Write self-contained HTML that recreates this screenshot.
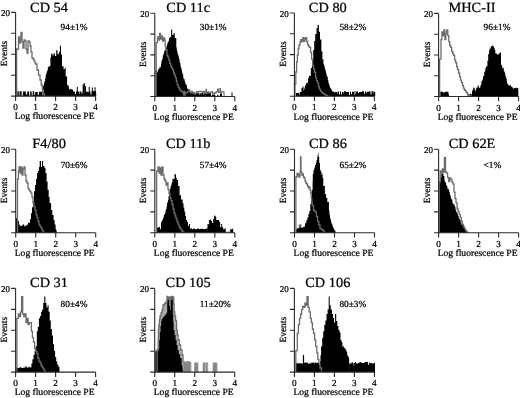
<!DOCTYPE html>
<html><head><meta charset="utf-8"><style>
html,body{margin:0;padding:0;background:#fff;}
body{width:520px;height:398px;overflow:hidden;}
svg{display:block;filter:blur(0.3px);}
text{text-rendering:geometricPrecision;}
</style></head><body>
<svg width="520" height="398" viewBox="0 0 520 398">
<path d="M41.5,96.1 L41.5,96.2 L42.4,96.2 L42.4,87.2 L43.0,87.2 L43.0,86.0 L43.5,86.0 L43.5,85.5 L44.0,85.5 L44.0,82.9 L44.6,82.9 L44.6,81.0 L45.1,81.0 L45.1,78.6 L45.6,78.6 L45.7,75.1 L46.2,75.1 L46.2,73.3 L46.7,73.3 L46.7,71.6 L47.2,71.6 L47.2,70.5 L47.8,70.5 L47.8,67.4 L48.3,67.4 L48.4,66.5 L48.9,66.5 L48.9,66.2 L50.4,66.2 L50.4,57.5 L51.1,57.5 L51.1,53.8 L52.5,53.8 L52.5,55.5 L53.5,55.5 L53.5,53.5 L55.0,53.5 L55.0,56.0 L56.2,56.0 L56.2,50.2 L57.5,50.2 L57.5,54.3 L58.0,54.3 L58.0,54.6 L58.6,54.6 L58.6,52.9 L59.1,52.9 L59.1,51.7 L59.9,51.7 L59.9,45.8 L61.0,45.8 L61.0,54.6 L62.0,54.6 L62.0,66.2 L63.5,66.2 L63.5,69.0 L65.0,69.0 L65.0,67.7 L65.7,67.7 L65.7,76.4 L67.1,76.4 L67.1,85.2 L68.6,85.2 L68.6,87.2 L69.1,87.2 L69.1,89.3 L69.6,89.3 L69.6,89.5 L70.0,89.5 L70.0,89.1 L70.5,89.1 L70.5,89.3 L71.0,89.3 L71.0,88.8 L71.5,88.8 L71.5,89.5 L73.0,89.5 L73.0,96.1 Z" fill="#000"/>
<path d="M17.3,96.1 V91.2 H18.8 V96.1 Z M19.6,96.1 V91.2 H21.6 V96.1 Z M22.9,96.1 V91.6 H25.9 V96.1 Z M25.9,96.1 V94.6 H27.2 V96.1 Z M27.2,96.1 V91.4 H29.2 V96.1 Z M30.2,96.1 V91.5 H31.7 V96.1 Z M31.7,96.1 V95.4 H32.7 V96.1 Z M32.7,96.1 V91.3 H34.2 V96.1 Z M34.2,96.1 V94.7 H35.2 V96.1 Z M35.2,96.1 V91.9 H37.7 V96.1 Z M37.7,96.1 V94.8 H39.0 V96.1 Z M39.0,96.1 V91.8 H42.0 V96.1 Z M42.0,96.1 V95.4 H42.0 V96.1 Z M70.0,96.1 V91.2 H71.0 V96.1 Z M71.0,96.1 V91.7 H72.5 V96.1 Z M72.5,96.1 V91.6 H75.0 V96.1 Z M75.0,96.1 V94.0 H76.0 V96.1 Z M76.0,96.1 V91.4 H79.0 V96.1 Z M79.0,96.1 V94.1 H79.5 V96.1 Z M79.5,96.1 V91.6 H81.5 V96.1 Z M81.5,96.1 V93.4 H82.5 V96.1 Z M82.5,96.1 V91.8 H83.5 V96.1 Z M83.5,96.1 V91.9 H84.5 V96.1 Z M84.5,96.1 V94.5 H85.5 V96.1 Z M85.5,96.1 V91.7 H88.5 V96.1 Z M88.5,96.1 V93.1 H89.0 V96.1 Z M89.0,96.1 V91.6 H90.5 V96.1 Z M90.5,96.1 V94.5 H91.5 V96.1 Z M91.5,96.1 V91.1 H94.0 V96.1 Z M94.0,96.1 V91.2 H96.0 V96.1 Z M96.0,96.1 V92.7 H96.2 V96.1 Z M76.8,96.1 V86.8 H77.8 V96.1 Z M82.7,96.1 V84.5 H83.7 V96.1 Z M83.7,96.1 V83.3 H84.9 V96.1 Z M85.0,96.1 V86.0 H86.0 V96.1 Z M88.7,96.1 V86.8 H89.7 V96.1 Z M91.8,96.1 V87.5 H92.8 V96.1 Z M94.5,96.1 V87.2 H95.5 V96.1 Z " fill="#000"/>
<path d="M16.6,96.1 L16.6,49.0 L17.0,49.0 L17.0,49.0 L18.5,49.0 L18.5,37.0 L19.5,37.0 L19.5,43.0 L20.3,43.0 L20.3,40.0 L21.0,40.0 L21.0,32.5 L22.0,32.5 L22.0,42.0 L23.0,42.0 L23.0,48.0 L24.0,48.0 L24.0,40.0 L25.0,40.0 L25.0,41.0 L26.0,41.0 L26.0,49.0 L27.0,49.0 L27.0,53.0 L28.0,53.0 L28.0,41.0 L29.0,41.0 L29.0,42.0 L30.0,42.0 L30.0,46.0 L31.0,46.0 L31.0,52.0 L32.0,52.0 L32.0,58.0 L33.0,58.0 L33.0,59.0 L34.0,59.0 L34.0,60.8 L34.8,60.8 L34.8,62.6 L35.6,62.6 L35.6,64.0 L37.0,64.0 L37.0,70.0 L38.5,70.0 L38.5,75.0 L40.0,75.0 L40.0,80.0 L41.2,80.0 L41.2,85.0 L42.3,85.0 L42.3,89.4 L43.4,89.4 L43.4,94.0 L44.5,94.0 L44.5,96.1" fill="none" stroke="#6c6c6c" stroke-width="1.3" stroke-linejoin="miter"/>
<path d="M15.6,12.4 V96.1 H95.6 M11.1,96.1 H15.6 M11.1,75.2 H15.6 M11.1,54.2 H15.6 M11.1,33.3 H15.6 M11.1,12.4 H15.6 M15.6,96.1 V100.9 M35.6,96.1 V100.9 M55.6,96.1 V100.9 M75.6,96.1 V100.9 M95.6,96.1 V100.9 " fill="none" stroke="#2a2a2a" stroke-width="1.1"/>
<text x="10.0" y="16.3" font-size="9" text-anchor="end" font-family="Liberation Serif, Times New Roman, serif" stroke="#000" stroke-width="0.24">20</text>
<text transform="translate(7.2,53.6) rotate(-90)" font-size="9.4" text-anchor="middle" font-family="Liberation Serif, Times New Roman, serif" stroke="#000" stroke-width="0.24">Events</text>
<text x="15.6" y="110.2" font-size="9.2" text-anchor="middle" font-family="Liberation Serif, Times New Roman, serif" stroke="#000" stroke-width="0.24">0</text>
<text x="35.6" y="110.2" font-size="9.2" text-anchor="middle" font-family="Liberation Serif, Times New Roman, serif" stroke="#000" stroke-width="0.24">1</text>
<text x="55.6" y="110.2" font-size="9.2" text-anchor="middle" font-family="Liberation Serif, Times New Roman, serif" stroke="#000" stroke-width="0.24">2</text>
<text x="75.6" y="110.2" font-size="9.2" text-anchor="middle" font-family="Liberation Serif, Times New Roman, serif" stroke="#000" stroke-width="0.24">3</text>
<text x="95.6" y="110.2" font-size="9.2" text-anchor="middle" font-family="Liberation Serif, Times New Roman, serif" stroke="#000" stroke-width="0.24">4</text>
<text x="54.6" y="119.3" font-size="9.6" letter-spacing="0" text-anchor="middle" font-family="Liberation Serif, Times New Roman, serif" stroke="#000" stroke-width="0.24">Log fluorescence PE</text>
<text transform="translate(49.0,11.6) scale(1.025,1)" font-size="14" text-anchor="middle" font-family="Liberation Serif, Times New Roman, serif" stroke="#000" stroke-width="0.24">CD 54</text>
<text x="60.6" y="30.1" font-size="9.3" font-family="Liberation Serif, Times New Roman, serif" stroke="#000" stroke-width="0.24">94±1%</text>
<path d="M155.6,96.5 L155.6,70.0 L156.8,70.0 L156.8,73.2 L157.2,73.2 L157.2,71.7 L157.7,71.7 L157.7,71.0 L158.1,71.0 L158.2,69.2 L158.6,69.2 L158.6,68.8 L159.1,68.8 L159.1,68.7 L159.5,68.7 L159.6,66.8 L160.0,66.8 L160.0,67.5 L160.5,67.5 L160.5,66.7 L161.0,66.7 L161.0,63.7 L161.4,63.7 L161.4,61.1 L161.9,61.1 L161.9,59.5 L162.4,59.5 L162.4,58.7 L162.8,58.7 L162.8,55.4 L163.3,55.4 L163.3,54.4 L163.8,54.4 L163.8,53.1 L164.2,53.1 L164.2,50.5 L164.7,50.5 L164.7,50.7 L165.1,50.7 L165.1,50.4 L165.6,50.4 L165.6,47.8 L166.1,47.8 L166.1,47.2 L166.6,47.2 L166.6,46.4 L167.0,46.4 L167.1,44.2 L167.5,44.2 L167.5,42.6 L168.0,42.6 L168.0,42.2 L168.4,42.2 L168.4,41.0 L168.9,41.0 L168.9,38.3 L169.4,38.3 L169.4,38.0 L169.8,38.0 L169.8,37.0 L171.1,37.0 L171.1,29.6 L172.2,29.6 L172.2,35.0 L173.5,35.0 L173.5,33.3 L174.8,33.3 L174.8,38.0 L176.3,38.0 L176.3,47.6 L176.8,47.6 L176.8,50.2 L177.2,50.2 L177.2,51.8 L177.7,51.8 L177.7,54.4 L178.2,54.4 L178.2,55.5 L178.6,55.5 L178.6,57.3 L179.1,57.3 L179.1,59.3 L179.6,59.3 L179.6,62.1 L180.0,62.1 L180.0,63.3 L180.5,63.3 L180.5,66.4 L180.9,66.4 L180.9,67.4 L181.4,67.4 L181.4,69.4 L181.9,69.4 L181.9,72.4 L182.4,72.4 L182.4,73.3 L182.8,73.3 L182.9,75.2 L183.3,75.2 L183.3,78.0 L183.8,78.0 L183.8,79.7 L184.2,79.7 L184.2,79.1 L184.7,79.1 L184.7,81.4 L185.1,81.4 L185.2,83.2 L185.6,83.2 L185.6,84.4 L186.1,84.4 L186.1,84.2 L186.5,84.2 L186.6,85.7 L187.0,85.7 L187.0,88.5 L187.5,88.5 L187.5,89.0 L187.9,89.0 L187.9,88.5 L188.4,88.5 L188.4,89.8 L188.9,89.8 L188.9,90.3 L189.3,90.3 L189.3,90.7 L189.8,90.7 L189.8,91.7 L190.2,91.7 L190.2,92.6 L190.7,92.6 L190.7,93.6 L191.2,93.6 L191.2,93.5 L192.5,93.5 L192.5,96.5 Z" fill="#000"/>
<path d="M189.0,96.5 V93.0 H190.0 V96.5 Z M190.0,96.5 V94.1 H191.0 V96.5 Z M191.0,96.5 V92.8 H194.0 V96.5 Z M194.0,96.5 V94.5 H194.5 V96.5 Z M194.5,96.5 V92.9 H195.5 V96.5 Z M195.5,96.5 V94.4 H196.0 V96.5 Z M196.0,96.5 V93.3 H197.0 V96.5 Z M197.0,96.5 V93.2 H199.5 V96.5 Z M199.5,96.5 V95.1 H200.0 V96.5 Z M200.0,96.5 V93.2 H201.0 V96.5 Z M201.0,96.5 V94.6 H201.5 V96.5 Z M201.5,96.5 V92.7 H203.0 V96.5 Z M203.0,96.5 V94.8 H203.5 V96.5 Z M203.5,96.5 V92.6 H206.0 V96.5 Z M206.0,96.5 V93.8 H207.0 V96.5 Z M207.0,96.5 V92.6 H208.0 V96.5 Z M208.0,96.5 V92.8 H211.0 V96.5 Z M211.0,96.5 V94.5 H211.0 V96.5 Z M211.5,96.5 V95.4 H212.0 V96.5 Z M212.0,96.5 V94.4 H213.0 V96.5 Z M213.0,96.5 V94.7 H214.5 V96.5 Z M214.5,96.5 V93.3 H215.0 V96.5 Z M215.0,96.5 V95.5 H215.5 V96.5 Z M217.0,96.5 V94.5 H217.5 V96.5 Z M217.5,96.5 V95.4 H219.0 V96.5 Z M219.0,96.5 V95.8 H220.0 V96.5 Z M220.0,96.5 V93.7 H221.0 V96.5 Z M221.0,96.5 V93.2 H222.0 V96.5 Z M231.5,96.5 V92.5 H232.5 V96.5 Z " fill="#000"/>
<path d="M156.2,96.5 L156.2,42.6 L156.6,42.6 L156.6,42.6 L157.5,42.6 L157.5,37.0 L158.5,37.0 L158.5,40.0 L159.5,40.0 L159.5,33.3 L160.5,33.3 L160.5,39.0 L161.5,39.0 L161.5,36.0 L162.5,36.0 L162.5,41.0 L163.5,41.0 L163.5,38.0 L164.5,38.0 L164.5,40.0 L165.2,40.0 L165.2,46.3 L166.0,46.3 L166.0,50.0 L167.0,50.0 L167.0,55.5 L167.9,55.5 L167.9,57.3 L168.9,57.3 L168.9,60.3 L169.8,60.3 L169.8,63.4 L170.7,63.4 L170.7,66.0 L171.6,66.0 L171.6,68.2 L172.6,68.2 L172.6,69.8 L173.6,69.8 L173.6,73.0 L174.5,73.0 L174.5,75.2 L175.4,75.2 L175.4,77.7 L176.3,77.7 L176.3,81.2 L177.2,81.2 L177.2,84.7 L178.2,84.7 L178.2,87.0 L179.1,87.0 L179.1,88.5 L180.0,88.5 L180.0,90.3 L180.9,90.3 L180.9,90.9 L181.9,90.9 L181.9,91.9 L183.5,91.9 L183.5,94.0 L185.0,94.0 L185.0,96.5" fill="none" stroke="#6c6c6c" stroke-width="1.3" stroke-linejoin="miter"/>
<path d="M184.0,96.5 L184.0,91.4 L185.0,91.4 L185.0,93.1 L186.0,93.1 L186.0,92.7 L187.5,92.7 L187.5,91.9 L189.0,91.9 L189.0,89.9 L190.0,89.9 L190.0,91.8 L191.0,91.8 L191.0,92.6 L191.5,92.6 L191.5,91.2 L192.5,91.2 L192.5,93.0 L193.5,93.0 L193.5,92.2 L194.0,92.2 L194.0,93.4 L195.0,93.4 L195.0,93.1 L196.0,93.1 L196.0,92.9 L196.5,92.9 L196.5,91.5 L197.0,91.5 L197.0,92.4 L198.0,92.4 L198.0,92.0 L199.0,92.0 L199.0,91.3 L200.0,91.3 L200.0,91.4 L201.5,91.4 L201.5,92.0 L202.0,92.0 L202.0,92.2 L203.0,92.2 L203.0,91.3 L204.0,91.3 L204.0,91.6 L204.5,91.6 L204.5,93.4 L205.0,93.4 L205.0,91.7 L206.0,91.7 L206.0,89.3 L206.5,89.3 L206.5,92.9 L208.0,92.9 L208.0,91.6 L208.5,91.6 L208.5,93.0 L210.0,93.0 L210.0,92.7 L211.0,92.7 L211.0,91.5 L212.5,91.5 L212.5,93.4 L214.0,93.4 L214.0,92.9 L214.5,92.9 L214.5,93.1 L215.5,93.1 L215.5,92.4 L216.5,92.4 L216.5,91.8 L217.5,91.8 L217.5,89.0 L218.5,89.0 L218.5,92.5 L219.5,92.5 L219.5,92.3 L220.0,92.3 L220.0,88.6 L220.5,88.6 L220.5,92.3 L221.0,92.3 L221.0,93.3 L221.5,93.3 L221.5,91.7 L223.0,91.7 L223.0,91.9 L224.0,91.9 L224.0,96.5" fill="none" stroke="#6c6c6c" stroke-width="1.1"/>
<path d="M154.8,13.3 V96.5 H234.8 M150.3,96.5 H154.8 M150.3,75.7 H154.8 M150.3,54.9 H154.8 M150.3,34.1 H154.8 M150.3,13.3 H154.8 M154.8,96.5 V101.3 M174.8,96.5 V101.3 M194.8,96.5 V101.3 M214.8,96.5 V101.3 M234.8,96.5 V101.3 " fill="none" stroke="#2a2a2a" stroke-width="1.1"/>
<text x="149.2" y="17.2" font-size="9" text-anchor="end" font-family="Liberation Serif, Times New Roman, serif" stroke="#000" stroke-width="0.24">20</text>
<text transform="translate(146.4,54.3) rotate(-90)" font-size="9.4" text-anchor="middle" font-family="Liberation Serif, Times New Roman, serif" stroke="#000" stroke-width="0.24">Events</text>
<text x="154.8" y="110.6" font-size="9.2" text-anchor="middle" font-family="Liberation Serif, Times New Roman, serif" stroke="#000" stroke-width="0.24">0</text>
<text x="174.8" y="110.6" font-size="9.2" text-anchor="middle" font-family="Liberation Serif, Times New Roman, serif" stroke="#000" stroke-width="0.24">1</text>
<text x="194.8" y="110.6" font-size="9.2" text-anchor="middle" font-family="Liberation Serif, Times New Roman, serif" stroke="#000" stroke-width="0.24">2</text>
<text x="214.8" y="110.6" font-size="9.2" text-anchor="middle" font-family="Liberation Serif, Times New Roman, serif" stroke="#000" stroke-width="0.24">3</text>
<text x="234.8" y="110.6" font-size="9.2" text-anchor="middle" font-family="Liberation Serif, Times New Roman, serif" stroke="#000" stroke-width="0.24">4</text>
<text x="193.8" y="119.7" font-size="9.6" letter-spacing="0" text-anchor="middle" font-family="Liberation Serif, Times New Roman, serif" stroke="#000" stroke-width="0.24">Log fluorescence PE</text>
<text transform="translate(188.2,11.6) scale(1.025,1)" font-size="14" text-anchor="middle" font-family="Liberation Serif, Times New Roman, serif" stroke="#000" stroke-width="0.24">CD 11c</text>
<text x="199.8" y="30.1" font-size="9.3" font-family="Liberation Serif, Times New Roman, serif" stroke="#000" stroke-width="0.24">30±1%</text>
<path d="M300.0,96.3 L300.0,92.0 L301.5,92.0 L301.5,88.0 L302.5,88.0 L302.5,86.6 L303.5,86.6 L303.5,90.2 L304.0,90.2 L304.0,89.3 L304.5,89.3 L304.5,87.6 L305.0,87.6 L305.0,85.6 L305.5,85.6 L305.5,85.3 L306.0,85.3 L306.0,83.4 L306.5,83.4 L306.5,82.9 L307.0,82.9 L307.0,83.0 L307.5,83.0 L307.5,82.4 L308.0,82.4 L308.0,78.6 L308.5,78.6 L308.5,77.4 L309.0,77.4 L309.0,75.6 L309.5,75.6 L309.5,76.0 L310.8,76.0 L310.8,68.0 L312.0,68.0 L312.0,60.0 L313.2,60.0 L313.2,50.0 L314.2,50.0 L314.2,41.0 L315.2,41.0 L315.2,34.0 L316.5,34.0 L316.5,28.6 L317.0,28.6 L317.0,28.0 L317.6,28.0 L317.6,25.1 L318.1,25.1 L318.1,24.9 L318.9,24.9 L318.9,31.8 L320.0,31.8 L320.0,39.6 L321.4,39.6 L321.4,51.4 L322.4,51.4 L322.4,59.2 L323.4,59.2 L323.4,63.7 L323.9,63.7 L323.9,65.2 L324.4,65.2 L324.4,66.9 L324.8,66.9 L324.8,69.1 L325.3,69.1 L325.3,70.3 L325.8,70.3 L325.8,72.4 L326.3,72.4 L326.3,74.4 L326.8,74.4 L326.8,76.7 L327.3,76.7 L327.3,76.6 L327.8,76.6 L327.8,80.1 L328.3,80.1 L328.3,82.5 L328.8,82.5 L328.8,84.0 L329.3,84.0 L329.3,85.4 L329.8,85.4 L329.8,87.4 L330.2,87.4 L330.2,87.8 L330.7,87.8 L330.7,88.5 L331.2,88.5 L331.2,89.5 L331.7,89.5 L331.7,90.7 L332.2,90.7 L332.2,91.5 L332.7,91.5 L332.7,91.8 L333.2,91.8 L333.2,93.0 L333.6,93.0 L333.6,93.0 L334.1,93.0 L334.1,93.0 L334.6,93.0 L334.6,93.2 L335.0,93.2 L335.0,96.3 Z" fill="#000"/>
<path d="M296.0,96.3 V92.9 H299.0 V96.3 Z M299.0,96.3 V95.0 H299.5 V96.3 Z M299.5,96.3 V92.5 H301.0 V96.3 Z M301.0,96.3 V93.8 H301.5 V96.3 Z M301.5,96.3 V92.6 H303.0 V96.3 Z M303.0,96.3 V94.6 H303.5 V96.3 Z M303.5,96.3 V92.5 H304.0 V96.3 Z M304.0,96.3 V94.4 H304.0 V96.3 Z M332.0,96.3 V91.8 H333.5 V96.3 Z M333.5,96.3 V91.8 H334.5 V96.3 Z M334.5,96.3 V93.3 H335.0 V96.3 Z M335.0,96.3 V91.9 H337.0 V96.3 Z M337.0,96.3 V94.1 H337.5 V96.3 Z M337.5,96.3 V91.4 H339.0 V96.3 Z M339.0,96.3 V94.6 H340.0 V96.3 Z M340.0,96.3 V91.4 H341.0 V96.3 Z M341.0,96.3 V94.5 H342.0 V96.3 Z M342.0,96.3 V91.9 H343.5 V96.3 Z M343.5,96.3 V93.5 H344.0 V96.3 Z M344.0,96.3 V91.3 H346.0 V96.3 Z M346.0,96.3 V92.0 H349.0 V96.3 Z M349.0,96.3 V94.9 H350.0 V96.3 Z M350.0,96.3 V91.7 H351.0 V96.3 Z M351.0,96.3 V94.2 H352.0 V96.3 Z M352.0,96.3 V91.7 H354.0 V96.3 Z M354.0,96.3 V94.9 H354.5 V96.3 Z M354.5,96.3 V91.3 H355.5 V96.3 Z M355.5,96.3 V94.0 H356.0 V96.3 Z M356.0,96.3 V91.4 H358.0 V96.3 Z M358.0,96.3 V93.0 H359.0 V96.3 Z M359.0,96.3 V91.9 H362.0 V96.3 Z M362.0,96.3 V91.3 H364.0 V96.3 Z M364.0,96.3 V93.7 H365.0 V96.3 Z M365.0,96.3 V91.6 H366.5 V96.3 Z M366.5,96.3 V93.4 H367.0 V96.3 Z M367.0,96.3 V91.8 H369.0 V96.3 Z M369.0,96.3 V91.3 H370.5 V96.3 Z M370.5,96.3 V94.6 H371.5 V96.3 Z M371.5,96.3 V91.3 H373.5 V96.3 Z M373.5,96.3 V93.3 H374.0 V96.3 Z M374.0,96.3 V91.7 H375.2 V96.3 Z M375.2,96.3 V94.8 H375.2 V96.3 Z " fill="#000"/>
<path d="M295.0,96.3 L295.0,84.0 L295.0,84.0 L295.0,84.0 L295.8,84.0 L295.8,72.0 L296.6,72.0 L296.6,62.0 L297.4,62.0 L297.4,55.0 L298.2,55.0 L298.2,49.0 L299.0,49.0 L299.0,45.0 L300.0,45.0 L300.0,42.0 L300.8,42.0 L300.8,39.6 L301.8,39.6 L301.8,41.5 L302.8,41.5 L302.8,37.6 L304.0,37.6 L304.0,41.3 L304.9,41.3 L304.9,38.9 L305.7,38.9 L305.7,37.6 L306.7,37.6 L306.7,41.5 L307.7,41.5 L307.7,45.0 L308.7,45.0 L308.7,46.6 L309.7,46.6 L309.7,47.4 L310.6,47.4 L310.6,52.3 L311.6,52.3 L311.6,59.2 L312.6,59.2 L312.6,65.3 L313.6,65.3 L313.6,69.2 L314.6,69.2 L314.6,72.4 L315.6,72.4 L315.6,77.7 L316.5,77.7 L316.5,80.6 L317.5,80.6 L317.5,82.9 L318.5,82.9 L318.5,86.5 L319.4,86.5 L319.4,89.2 L320.4,89.2 L320.4,91.0 L321.4,91.0 L321.4,91.9 L322.4,91.9 L322.4,93.2 L323.4,93.2 L323.4,93.6 L324.3,93.6 L324.3,94.3 L325.3,94.3 L325.3,94.9 L326.2,94.9 L326.2,95.4 L327.1,95.4 L327.1,95.9 L328.0,95.9 L328.0,96.3" fill="none" stroke="#6c6c6c" stroke-width="1.3" stroke-linejoin="miter"/>
<path d="M294.4,13.0 V96.3 H374.4 M289.9,96.3 H294.4 M289.9,75.5 H294.4 M289.9,54.6 H294.4 M289.9,33.8 H294.4 M289.9,13.0 H294.4 M294.4,96.3 V101.1 M314.4,96.3 V101.1 M334.4,96.3 V101.1 M354.4,96.3 V101.1 M374.4,96.3 V101.1 " fill="none" stroke="#2a2a2a" stroke-width="1.1"/>
<text x="288.8" y="16.9" font-size="9" text-anchor="end" font-family="Liberation Serif, Times New Roman, serif" stroke="#000" stroke-width="0.24">20</text>
<text transform="translate(286.0,54.0) rotate(-90)" font-size="9.4" text-anchor="middle" font-family="Liberation Serif, Times New Roman, serif" stroke="#000" stroke-width="0.24">Events</text>
<text x="294.4" y="110.4" font-size="9.2" text-anchor="middle" font-family="Liberation Serif, Times New Roman, serif" stroke="#000" stroke-width="0.24">0</text>
<text x="314.4" y="110.4" font-size="9.2" text-anchor="middle" font-family="Liberation Serif, Times New Roman, serif" stroke="#000" stroke-width="0.24">1</text>
<text x="334.4" y="110.4" font-size="9.2" text-anchor="middle" font-family="Liberation Serif, Times New Roman, serif" stroke="#000" stroke-width="0.24">2</text>
<text x="354.4" y="110.4" font-size="9.2" text-anchor="middle" font-family="Liberation Serif, Times New Roman, serif" stroke="#000" stroke-width="0.24">3</text>
<text x="374.4" y="110.4" font-size="9.2" text-anchor="middle" font-family="Liberation Serif, Times New Roman, serif" stroke="#000" stroke-width="0.24">4</text>
<text x="333.4" y="119.5" font-size="9.6" letter-spacing="0" text-anchor="middle" font-family="Liberation Serif, Times New Roman, serif" stroke="#000" stroke-width="0.24">Log fluorescence PE</text>
<text transform="translate(327.8,11.6) scale(1.025,1)" font-size="14" text-anchor="middle" font-family="Liberation Serif, Times New Roman, serif" stroke="#000" stroke-width="0.24">CD 80</text>
<text x="339.4" y="30.1" font-size="9.3" font-family="Liberation Serif, Times New Roman, serif" stroke="#000" stroke-width="0.24">58±2%</text>
<path d="M472.0,96.5 L472.0,90.9 L472.6,90.9 L472.6,89.8 L473.1,89.8 L473.1,87.4 L473.7,87.4 L473.7,87.7 L474.3,87.7 L474.3,88.6 L474.8,88.6 L474.8,90.4 L475.4,90.4 L475.4,90.7 L475.9,90.7 L475.9,88.8 L476.4,88.8 L476.4,87.6 L477.0,87.6 L477.0,87.7 L477.5,87.7 L477.5,85.5 L478.0,85.5 L478.0,85.3 L478.6,85.3 L478.6,87.5 L479.1,87.5 L479.1,87.6 L479.7,87.6 L479.7,88.3 L480.3,88.3 L480.3,85.8 L480.8,85.8 L480.8,84.6 L481.4,84.6 L481.4,81.1 L482.0,81.1 L482.0,80.6 L482.5,80.6 L482.5,79.3 L483.1,79.3 L483.1,75.7 L483.7,75.7 L483.7,75.9 L484.2,75.9 L484.2,72.1 L484.8,72.1 L484.8,70.8 L485.4,70.8 L485.4,68.1 L485.9,68.1 L485.9,66.9 L486.5,66.9 L486.5,65.9 L487.4,65.9 L487.4,60.8 L488.2,60.8 L488.2,53.9 L489.1,53.9 L489.1,50.2 L489.7,50.2 L489.7,47.7 L490.2,47.7 L490.2,48.7 L490.8,48.7 L490.8,46.6 L491.4,46.6 L491.4,46.3 L491.9,46.3 L491.9,45.9 L492.5,45.9 L492.5,45.4 L493.1,45.4 L493.1,45.7 L493.6,45.7 L493.6,47.2 L494.2,47.2 L494.2,48.4 L494.8,48.4 L494.8,50.0 L495.3,50.0 L495.3,53.3 L495.9,53.3 L495.9,53.7 L496.5,53.7 L496.5,53.6 L497.0,53.6 L497.0,54.7 L497.6,54.7 L497.6,54.2 L498.1,54.2 L498.1,53.8 L498.6,53.8 L498.6,54.5 L499.2,54.5 L499.2,53.0 L499.7,53.0 L499.7,53.5 L500.2,53.5 L500.2,52.2 L501.0,52.2 L501.0,65.2 L501.6,65.2 L501.6,64.4 L502.1,64.4 L502.1,67.5 L502.7,67.5 L502.7,68.5 L503.3,68.5 L503.3,67.8 L503.8,67.8 L503.8,71.3 L504.4,71.3 L504.4,71.7 L504.8,71.7 L504.8,73.5 L505.3,73.5 L505.3,76.4 L505.7,76.4 L505.8,76.3 L506.2,76.3 L506.2,79.0 L506.8,79.0 L506.8,82.3 L507.3,82.3 L507.3,84.1 L507.9,84.1 L507.9,84.6 L508.5,84.6 L508.5,85.8 L509.0,85.8 L509.0,85.5 L509.6,85.5 L509.6,85.2 L510.2,85.2 L510.2,84.6 L510.7,84.6 L510.7,86.4 L511.3,86.4 L511.3,86.7 L511.9,86.7 L511.9,87.1 L512.4,87.1 L512.4,87.7 L513.0,87.7 L513.0,88.9 L513.6,88.9 L513.6,87.8 L514.1,87.8 L514.1,88.1 L514.7,88.1 L514.7,88.3 L515.2,88.3 L515.2,87.9 L515.7,87.9 L515.7,87.5 L516.3,87.5 L516.3,88.2 L516.8,88.2 L516.8,87.8 L517.3,87.8 L517.3,88.0 L518.3,88.0 L518.3,96.5 Z" fill="#000"/>
<path d="M440.3,96.5 V91.8 H443.3 V96.5 Z M443.3,96.5 V93.3 H443.8 V96.5 Z M443.8,96.5 V92.3 H445.3 V96.5 Z M445.3,96.5 V91.8 H448.3 V96.5 Z M448.3,96.5 V94.6 H448.8 V96.5 Z M448.8,96.5 V92.0 H449.0 V96.5 Z M449.0,96.5 V94.0 H449.0 V96.5 Z M467.7,96.5 V94.2 H469.2 V96.5 Z M469.2,96.5 V95.4 H469.7 V96.5 Z M469.7,96.5 V93.7 H471.2 V96.5 Z M471.2,96.5 V94.4 H472.2 V96.5 Z M472.2,96.5 V95.5 H472.7 V96.5 Z M472.7,96.5 V94.4 H473.0 V96.5 Z M473.0,96.5 V95.4 H473.0 V96.5 Z " fill="#000"/>
<path d="M439.6,96.5 L439.6,59.2 L440.0,59.2 L440.0,59.2 L441.0,59.2 L441.0,39.6 L441.9,39.6 L441.9,31.8 L442.9,31.8 L442.9,35.7 L443.9,35.7 L443.9,29.8 L444.9,29.8 L444.9,39.6 L445.8,39.6 L445.8,33.7 L446.8,33.7 L446.8,29.8 L447.8,29.8 L447.8,35.7 L448.8,35.7 L448.8,41.6 L449.7,41.6 L449.7,45.5 L450.7,45.5 L450.7,47.4 L451.7,47.4 L451.7,51.4 L452.7,51.4 L452.7,53.3 L453.6,53.3 L453.6,55.3 L454.6,55.3 L454.6,59.8 L455.6,59.8 L455.6,62.7 L456.6,62.7 L456.6,66.9 L457.6,66.9 L457.6,69.6 L458.6,69.6 L458.6,73.2 L459.6,73.2 L459.6,76.6 L460.5,76.6 L460.5,80.2 L461.5,80.2 L461.5,82.6 L462.5,82.6 L462.5,85.4 L463.4,85.4 L463.4,88.1 L464.4,88.1 L464.4,90.0 L465.4,90.0 L465.4,91.1 L466.4,91.1 L466.4,92.7 L467.4,92.7 L467.4,94.2 L468.3,94.2 L468.3,94.8 L469.2,94.8 L469.2,95.4 L470.1,95.4 L470.1,95.9 L471.0,95.9 L471.0,96.5" fill="none" stroke="#6c6c6c" stroke-width="1.3" stroke-linejoin="miter"/>
<path d="M438.6,13.4 V96.5 H518.6 M434.1,96.5 H438.6 M434.1,75.7 H438.6 M434.1,55.0 H438.6 M434.1,34.2 H438.6 M434.1,13.4 H438.6 M438.6,96.5 V101.3 M458.6,96.5 V101.3 M478.6,96.5 V101.3 M498.6,96.5 V101.3 M518.6,96.5 V101.3 " fill="none" stroke="#2a2a2a" stroke-width="1.1"/>
<text x="433.0" y="17.3" font-size="9" text-anchor="end" font-family="Liberation Serif, Times New Roman, serif" stroke="#000" stroke-width="0.24">20</text>
<text transform="translate(430.2,54.4) rotate(-90)" font-size="9.4" text-anchor="middle" font-family="Liberation Serif, Times New Roman, serif" stroke="#000" stroke-width="0.24">Events</text>
<text x="438.6" y="110.6" font-size="9.2" text-anchor="middle" font-family="Liberation Serif, Times New Roman, serif" stroke="#000" stroke-width="0.24">0</text>
<text x="458.6" y="110.6" font-size="9.2" text-anchor="middle" font-family="Liberation Serif, Times New Roman, serif" stroke="#000" stroke-width="0.24">1</text>
<text x="478.6" y="110.6" font-size="9.2" text-anchor="middle" font-family="Liberation Serif, Times New Roman, serif" stroke="#000" stroke-width="0.24">2</text>
<text x="498.6" y="110.6" font-size="9.2" text-anchor="middle" font-family="Liberation Serif, Times New Roman, serif" stroke="#000" stroke-width="0.24">3</text>
<text x="518.6" y="110.6" font-size="9.2" text-anchor="middle" font-family="Liberation Serif, Times New Roman, serif" stroke="#000" stroke-width="0.24">4</text>
<text x="477.6" y="119.7" font-size="9.6" letter-spacing="0" text-anchor="middle" font-family="Liberation Serif, Times New Roman, serif" stroke="#000" stroke-width="0.24">Log fluorescence PE</text>
<text transform="translate(472.0,11.6) scale(1.025,1)" font-size="14" text-anchor="middle" font-family="Liberation Serif, Times New Roman, serif" stroke="#000" stroke-width="0.24">MHC-II</text>
<text x="483.6" y="30.1" font-size="9.3" font-family="Liberation Serif, Times New Roman, serif" stroke="#000" stroke-width="0.24">96±1%</text>
<path d="M16.0,232.8 L16.0,217.7 L16.5,217.7 L16.5,218.6 L17.1,218.6 L17.1,221.1 L17.6,221.1 L17.6,221.0 L19.0,221.0 L19.0,224.3 L19.5,224.3 L19.5,225.2 L20.0,225.2 L20.0,226.2 L20.5,226.2 L20.5,225.5 L21.0,225.5 L21.0,225.9 L21.5,225.9 L21.5,225.9 L22.0,225.9 L22.0,225.8 L22.5,225.8 L22.5,224.5 L23.0,224.5 L23.0,224.5 L23.5,224.5 L23.5,224.5 L24.0,224.5 L24.0,226.4 L24.5,226.4 L24.5,225.6 L25.0,225.6 L25.0,225.7 L25.5,225.7 L25.5,226.0 L26.0,226.0 L26.0,225.5 L26.5,225.5 L26.5,225.5 L27.0,225.5 L27.0,224.4 L27.5,224.4 L27.5,224.8 L28.0,224.8 L28.0,222.8 L28.5,222.8 L28.5,222.6 L29.0,222.6 L29.0,223.0 L30.0,223.0 L30.0,219.3 L31.0,219.3 L31.0,213.3 L32.0,213.3 L32.0,207.3 L33.0,207.3 L33.0,201.2 L34.0,201.2 L34.0,191.2 L35.0,191.2 L35.0,185.0 L36.0,185.0 L36.0,179.0 L37.0,179.0 L37.0,173.0 L38.0,173.0 L38.0,171.0 L39.0,171.0 L39.0,167.0 L39.7,167.0 L39.7,161.0 L41.0,161.0 L41.0,167.0 L42.0,167.0 L42.0,161.0 L43.0,161.0 L43.0,166.0 L44.5,166.0 L44.5,168.0 L45.5,168.0 L45.5,173.0 L46.6,173.0 L46.6,181.4 L47.6,181.4 L47.6,189.8 L48.7,189.8 L48.7,197.0 L49.6,197.0 L49.6,203.0 L51.1,203.0 L51.1,210.0 L52.3,210.0 L52.3,215.0 L53.6,215.0 L53.6,220.1 L54.6,220.1 L54.6,224.5 L55.6,224.5 L55.6,229.1 L56.1,229.1 L56.1,230.3 L56.7,230.3 L56.7,232.0 L57.2,232.0 L57.2,232.8 Z" fill="#000"/>
<path d="M17.5,232.8 L17.5,179.0 L17.9,179.0 L17.9,179.0 L18.4,179.0 L18.4,171.0 L19.0,171.0 L19.0,167.0 L20.0,167.0 L20.0,173.0 L21.0,173.0 L21.0,167.0 L22.0,167.0 L22.0,175.0 L23.0,175.0 L23.0,169.0 L24.0,169.0 L24.0,167.0 L25.0,167.0 L25.0,175.0 L26.0,175.0 L26.0,181.0 L27.0,181.0 L27.0,183.0 L28.0,183.0 L28.0,188.4 L29.0,188.4 L29.0,190.4 L30.0,190.4 L30.0,191.6 L31.0,191.6 L31.0,193.3 L32.0,193.3 L32.0,197.2 L33.0,197.2 L33.0,203.0 L34.0,203.0 L34.0,206.7 L35.0,206.7 L35.0,210.2 L36.0,210.2 L36.0,214.9 L37.0,214.9 L37.0,217.6 L38.0,217.6 L38.0,221.3 L39.0,221.3 L39.0,224.3 L40.0,224.3 L40.0,226.6 L41.0,226.6 L41.0,227.9 L42.0,227.9 L42.0,230.1 L43.0,230.1 L43.0,231.8 L44.0,231.8 L44.0,232.8" fill="none" stroke="#6c6c6c" stroke-width="1.3" stroke-linejoin="miter"/>
<path d="M15.7,149.2 V232.8 H95.7 M11.2,232.8 H15.7 M11.2,211.9 H15.7 M11.2,191.0 H15.7 M11.2,170.1 H15.7 M11.2,149.2 H15.7 M15.7,232.8 V237.6 M35.7,232.8 V237.6 M55.7,232.8 V237.6 M75.7,232.8 V237.6 M95.7,232.8 V237.6 " fill="none" stroke="#2a2a2a" stroke-width="1.1"/>
<text x="10.1" y="153.1" font-size="9" text-anchor="end" font-family="Liberation Serif, Times New Roman, serif" stroke="#000" stroke-width="0.24">20</text>
<text transform="translate(7.3,190.4) rotate(-90)" font-size="9.4" text-anchor="middle" font-family="Liberation Serif, Times New Roman, serif" stroke="#000" stroke-width="0.24">Events</text>
<text x="15.7" y="246.9" font-size="9.2" text-anchor="middle" font-family="Liberation Serif, Times New Roman, serif" stroke="#000" stroke-width="0.24">0</text>
<text x="35.7" y="246.9" font-size="9.2" text-anchor="middle" font-family="Liberation Serif, Times New Roman, serif" stroke="#000" stroke-width="0.24">1</text>
<text x="55.7" y="246.9" font-size="9.2" text-anchor="middle" font-family="Liberation Serif, Times New Roman, serif" stroke="#000" stroke-width="0.24">2</text>
<text x="75.7" y="246.9" font-size="9.2" text-anchor="middle" font-family="Liberation Serif, Times New Roman, serif" stroke="#000" stroke-width="0.24">3</text>
<text x="95.7" y="246.9" font-size="9.2" text-anchor="middle" font-family="Liberation Serif, Times New Roman, serif" stroke="#000" stroke-width="0.24">4</text>
<text x="54.7" y="256.0" font-size="9.6" letter-spacing="0" text-anchor="middle" font-family="Liberation Serif, Times New Roman, serif" stroke="#000" stroke-width="0.24">Log fluorescence PE</text>
<text transform="translate(49.1,148.2) scale(1.025,1)" font-size="14" text-anchor="middle" font-family="Liberation Serif, Times New Roman, serif" stroke="#000" stroke-width="0.24">F4/80</text>
<text x="60.7" y="168.0" font-size="9.3" font-family="Liberation Serif, Times New Roman, serif" stroke="#000" stroke-width="0.24">70±6%</text>
<path d="M156.5,232.8 L156.5,227.7 L157.0,227.7 L157.0,227.5 L157.5,227.5 L157.5,227.9 L158.0,227.9 L158.0,227.7 L158.5,227.7 L158.5,227.0 L160.0,227.0 L160.0,229.0 L161.0,229.0 L161.0,222.2 L161.5,222.2 L161.5,221.5 L162.0,221.5 L162.0,220.5 L162.5,220.5 L162.5,219.5 L163.0,219.5 L163.0,218.3 L163.5,218.3 L163.5,216.8 L164.0,216.8 L164.0,214.8 L164.5,214.8 L164.5,214.2 L165.0,214.2 L165.0,213.0 L165.5,213.0 L165.5,210.4 L166.0,210.4 L166.0,209.1 L166.5,209.1 L166.5,206.5 L167.0,206.5 L167.0,203.3 L167.5,203.3 L167.5,202.1 L168.0,202.1 L168.0,199.9 L168.5,199.9 L168.5,195.9 L169.0,195.9 L169.0,192.8 L169.5,192.8 L169.5,191.5 L170.0,191.5 L170.0,189.1 L170.5,189.1 L170.5,186.6 L171.0,186.6 L171.0,185.5 L171.5,185.5 L171.5,183.2 L172.0,183.2 L172.0,182.1 L172.5,182.1 L172.5,178.7 L173.0,178.7 L173.0,179.0 L174.5,179.0 L174.5,174.0 L175.3,174.0 L175.3,174.5 L176.0,174.5 L176.0,178.0 L176.8,178.0 L176.8,180.0 L178.1,180.0 L178.1,186.1 L179.6,186.1 L179.6,195.2 L181.0,195.2 L181.0,199.5 L182.6,199.5 L182.6,203.2 L183.5,203.2 L183.5,207.5 L184.3,207.5 L184.3,211.5 L185.2,211.5 L185.2,216.0 L186.0,216.0 L186.0,220.0 L187.0,220.0 L187.0,222.0 L188.0,222.0 L188.0,226.0 L189.0,226.0 L189.0,224.0 L190.0,224.0 L190.0,228.4 L190.5,228.4 L190.5,228.8 L191.0,228.8 L191.0,228.3 L191.5,228.3 L191.5,228.5 L192.0,228.5 L192.0,229.2 L192.5,229.2 L192.5,229.2 L193.0,229.2 L193.0,228.3 L193.5,228.3 L193.5,228.7 L194.0,228.7 L194.0,228.3 L194.5,228.3 L194.5,229.1 L195.0,229.1 L195.0,229.3 L195.5,229.3 L195.5,229.2 L196.0,229.2 L196.0,229.1 L196.5,229.1 L196.5,229.3 L197.0,229.3 L197.0,228.8 L197.5,228.8 L197.5,228.7 L198.0,228.7 L198.0,228.3 L198.5,228.3 L198.5,228.4 L199.0,228.4 L199.0,229.2 L199.5,229.2 L199.5,229.1 L200.0,229.1 L200.0,228.9 L200.5,228.9 L200.5,228.8 L201.0,228.8 L201.0,228.9 L201.5,228.9 L201.5,228.8 L202.0,228.8 L202.0,229.0 L202.5,229.0 L202.5,228.6 L203.0,228.6 L203.0,229.1 L203.5,229.1 L203.5,229.1 L204.0,229.1 L204.0,229.3 L204.5,229.3 L204.5,229.1 L205.0,229.1 L205.0,229.0 L205.5,229.0 L205.5,229.0 L206.0,229.0 L206.0,228.5 L207.5,228.5 L207.5,224.0 L208.1,224.0 L208.1,224.2 L209.1,224.2 L209.1,220.1 L210.1,220.1 L210.1,219.6 L211.1,219.6 L211.1,221.0 L212.1,221.0 L212.1,223.0 L213.1,223.0 L213.1,219.0 L214.1,219.0 L214.1,215.6 L215.1,215.6 L215.1,216.6 L216.2,216.6 L216.2,220.1 L217.2,220.1 L217.2,220.1 L218.2,220.1 L218.2,220.1 L219.2,220.1 L219.2,222.0 L220.2,222.0 L220.2,227.2 L221.2,227.2 L221.2,224.1 L222.2,224.1 L222.2,227.2 L223.2,227.2 L223.2,229.2 L224.7,229.2 L224.7,228.2 L225.7,228.2 L225.7,232.8 Z" fill="#000"/>
<path d="M226.0,232.8 V231.4 H226.5 V232.8 Z M228.5,232.8 V231.4 H229.5 V232.8 Z M229.5,232.8 V232.5 H230.0 V232.8 Z M230.2,232.8 V229.3 H231.2 V232.8 Z M231.2,232.8 V229.3 H231.7 V232.8 Z M231.7,232.8 V229.1 H232.7 V232.8 Z M232.7,232.8 V228.6 H233.2 V232.8 Z " fill="#000"/>
<path d="M156.6,232.8 L156.6,171.0 L157.0,171.0 L157.0,171.0 L158.0,171.0 L158.0,167.0 L159.0,167.0 L159.0,173.0 L160.0,173.0 L160.0,168.0 L161.0,168.0 L161.0,175.0 L162.0,175.0 L162.0,167.0 L163.0,167.0 L163.0,175.0 L164.0,175.0 L164.0,179.0 L165.0,179.0 L165.0,181.0 L166.0,181.0 L166.0,185.0 L167.0,185.0 L167.0,183.0 L168.0,183.0 L168.0,189.5 L169.0,189.5 L169.0,193.5 L170.0,193.5 L170.0,197.6 L171.0,197.6 L171.0,200.6 L172.0,200.6 L172.0,204.5 L173.0,204.5 L173.0,208.9 L174.0,208.9 L174.0,213.0 L175.0,213.0 L175.0,216.0 L176.0,216.0 L176.0,218.7 L177.0,218.7 L177.0,221.8 L178.0,221.8 L178.0,224.2 L179.0,224.2 L179.0,226.9 L180.0,226.9 L180.0,228.0 L181.0,228.0 L181.0,229.8 L182.0,229.8 L182.0,231.1 L183.0,231.1 L183.0,232.2 L184.0,232.2 L184.0,232.8" fill="none" stroke="#6c6c6c" stroke-width="1.3" stroke-linejoin="miter"/>
<path d="M154.8,149.2 V232.8 H234.8 M150.3,232.8 H154.8 M150.3,211.9 H154.8 M150.3,191.0 H154.8 M150.3,170.1 H154.8 M150.3,149.2 H154.8 M154.8,232.8 V237.6 M174.8,232.8 V237.6 M194.8,232.8 V237.6 M214.8,232.8 V237.6 M234.8,232.8 V237.6 " fill="none" stroke="#2a2a2a" stroke-width="1.1"/>
<text x="149.2" y="153.1" font-size="9" text-anchor="end" font-family="Liberation Serif, Times New Roman, serif" stroke="#000" stroke-width="0.24">20</text>
<text transform="translate(146.4,190.4) rotate(-90)" font-size="9.4" text-anchor="middle" font-family="Liberation Serif, Times New Roman, serif" stroke="#000" stroke-width="0.24">Events</text>
<text x="154.8" y="246.9" font-size="9.2" text-anchor="middle" font-family="Liberation Serif, Times New Roman, serif" stroke="#000" stroke-width="0.24">0</text>
<text x="174.8" y="246.9" font-size="9.2" text-anchor="middle" font-family="Liberation Serif, Times New Roman, serif" stroke="#000" stroke-width="0.24">1</text>
<text x="194.8" y="246.9" font-size="9.2" text-anchor="middle" font-family="Liberation Serif, Times New Roman, serif" stroke="#000" stroke-width="0.24">2</text>
<text x="214.8" y="246.9" font-size="9.2" text-anchor="middle" font-family="Liberation Serif, Times New Roman, serif" stroke="#000" stroke-width="0.24">3</text>
<text x="234.8" y="246.9" font-size="9.2" text-anchor="middle" font-family="Liberation Serif, Times New Roman, serif" stroke="#000" stroke-width="0.24">4</text>
<text x="193.8" y="256.0" font-size="9.6" letter-spacing="0" text-anchor="middle" font-family="Liberation Serif, Times New Roman, serif" stroke="#000" stroke-width="0.24">Log fluorescence PE</text>
<text transform="translate(188.2,148.2) scale(1.025,1)" font-size="14" text-anchor="middle" font-family="Liberation Serif, Times New Roman, serif" stroke="#000" stroke-width="0.24">CD 11b</text>
<text x="199.8" y="168.0" font-size="9.3" font-family="Liberation Serif, Times New Roman, serif" stroke="#000" stroke-width="0.24">57±4%</text>
<path d="M296.0,232.8 L296.0,229.3 L296.5,229.3 L296.5,228.7 L297.0,228.7 L297.0,228.8 L297.5,228.8 L297.5,228.1 L298.0,228.1 L298.0,227.8 L298.5,227.8 L298.5,228.4 L299.0,228.4 L299.0,227.9 L299.5,227.9 L299.5,227.9 L300.0,227.9 L300.0,227.0 L300.5,227.0 L300.5,228.1 L301.0,228.1 L301.0,227.6 L301.5,227.6 L301.5,227.4 L302.0,227.4 L302.0,227.8 L303.0,227.8 L303.0,227.0 L304.0,227.0 L304.0,226.5 L305.0,226.5 L305.0,223.2 L306.2,223.2 L306.2,220.5 L307.3,220.5 L307.3,217.6 L308.4,217.6 L308.4,214.0 L309.3,214.0 L309.3,211.0 L310.3,211.0 L310.3,204.0 L311.2,204.0 L311.2,197.0 L311.8,197.0 L311.8,190.0 L312.6,190.0 L312.6,181.0 L312.8,181.0 L312.8,174.0 L313.5,174.0 L313.5,170.0 L314.3,170.0 L314.3,167.5 L315.1,167.5 L315.1,165.0 L315.9,165.0 L315.9,162.5 L316.6,162.5 L316.6,160.0 L317.2,160.0 L317.2,157.0 L317.6,157.0 L317.6,155.0 L318.1,155.0 L318.1,153.0 L318.6,153.0 L318.6,157.0 L319.2,157.0 L319.2,163.0 L320.0,163.0 L320.0,170.0 L320.8,170.0 L320.8,172.0 L321.6,172.0 L321.6,175.0 L322.2,175.0 L322.2,173.5 L322.6,173.5 L322.6,178.0 L323.3,178.0 L323.3,186.0 L324.9,186.0 L324.9,194.0 L326.1,194.0 L326.1,198.0 L327.3,198.0 L327.3,202.0 L328.9,202.0 L328.9,210.5 L329.4,210.5 L329.4,214.8 L330.0,214.8 L330.0,218.0 L330.5,218.0 L330.5,220.0 L331.0,220.0 L331.0,222.1 L331.6,222.1 L331.6,224.3 L332.1,224.3 L332.1,224.4 L332.6,224.4 L332.6,226.8 L333.1,226.8 L333.1,227.6 L333.5,227.6 L333.5,228.5 L334.0,228.5 L334.0,229.4 L334.5,229.4 L334.5,230.0 L335.0,230.0 L335.0,231.0 L335.6,231.0 L335.6,232.2 L336.1,232.2 L336.1,232.8 Z" fill="#000"/>
<path d="M298.8,232.8 V224.5 H299.6 V232.8 Z M300.4,232.8 V224.3 H301.2 V232.8 Z " fill="#000"/>
<path d="M295.9,232.8 L295.9,177.0 L296.3,177.0 L296.3,177.0 L297.0,177.0 L297.0,173.5 L297.8,173.5 L297.8,176.0 L298.5,176.0 L298.5,174.0 L299.3,174.0 L299.3,177.0 L300.0,177.0 L300.0,172.0 L300.5,172.0 L300.5,157.0 L301.0,157.0 L301.0,172.0 L301.8,172.0 L301.8,175.0 L302.6,175.0 L302.6,174.0 L303.4,174.0 L303.4,177.0 L304.2,177.0 L304.2,178.0 L305.0,178.0 L305.0,181.0 L305.8,181.0 L305.8,183.0 L306.6,183.0 L306.6,184.0 L307.5,184.0 L307.5,186.0 L308.4,186.0 L308.4,188.0 L309.2,188.0 L309.2,187.0 L310.0,187.0 L310.0,190.0 L310.6,190.0 L310.6,193.0 L311.2,193.0 L311.2,198.0 L311.7,198.0 L311.7,202.0 L312.2,202.0 L312.2,205.4 L313.5,205.4 L313.5,210.1 L314.4,210.1 L314.4,210.8 L315.2,210.8 L315.2,211.8 L316.4,211.8 L316.4,216.5 L317.6,216.5 L317.6,221.4 L318.8,221.4 L318.8,225.0 L320.0,225.0 L320.0,228.5 L320.8,228.5 L320.8,228.6 L321.6,228.6 L321.6,229.7 L322.5,229.7 L322.5,230.2 L323.3,230.2 L323.3,230.8 L324.1,230.8 L324.1,232.2 L325.0,232.2 L325.0,232.8" fill="none" stroke="#6c6c6c" stroke-width="1.3" stroke-linejoin="miter"/>
<path d="M294.5,149.2 V232.8 H374.5 M290.0,232.8 H294.5 M290.0,211.9 H294.5 M290.0,191.0 H294.5 M290.0,170.1 H294.5 M290.0,149.2 H294.5 M294.5,232.8 V237.6 M314.5,232.8 V237.6 M334.5,232.8 V237.6 M354.5,232.8 V237.6 M374.5,232.8 V237.6 " fill="none" stroke="#2a2a2a" stroke-width="1.1"/>
<text x="288.9" y="153.1" font-size="9" text-anchor="end" font-family="Liberation Serif, Times New Roman, serif" stroke="#000" stroke-width="0.24">20</text>
<text transform="translate(286.1,190.4) rotate(-90)" font-size="9.4" text-anchor="middle" font-family="Liberation Serif, Times New Roman, serif" stroke="#000" stroke-width="0.24">Events</text>
<text x="294.5" y="246.9" font-size="9.2" text-anchor="middle" font-family="Liberation Serif, Times New Roman, serif" stroke="#000" stroke-width="0.24">0</text>
<text x="314.5" y="246.9" font-size="9.2" text-anchor="middle" font-family="Liberation Serif, Times New Roman, serif" stroke="#000" stroke-width="0.24">1</text>
<text x="334.5" y="246.9" font-size="9.2" text-anchor="middle" font-family="Liberation Serif, Times New Roman, serif" stroke="#000" stroke-width="0.24">2</text>
<text x="354.5" y="246.9" font-size="9.2" text-anchor="middle" font-family="Liberation Serif, Times New Roman, serif" stroke="#000" stroke-width="0.24">3</text>
<text x="374.5" y="246.9" font-size="9.2" text-anchor="middle" font-family="Liberation Serif, Times New Roman, serif" stroke="#000" stroke-width="0.24">4</text>
<text x="333.5" y="256.0" font-size="9.6" letter-spacing="0" text-anchor="middle" font-family="Liberation Serif, Times New Roman, serif" stroke="#000" stroke-width="0.24">Log fluorescence PE</text>
<text transform="translate(327.9,148.2) scale(1.025,1)" font-size="14" text-anchor="middle" font-family="Liberation Serif, Times New Roman, serif" stroke="#000" stroke-width="0.24">CD 86</text>
<text x="339.5" y="168.0" font-size="9.3" font-family="Liberation Serif, Times New Roman, serif" stroke="#000" stroke-width="0.24">65±2%</text>
<path d="M439.2,232.8 L439.2,181.0 L440.2,181.0 L440.2,177.4 L441.3,177.4 L441.3,174.0 L442.3,174.0 L442.3,173.2 L443.4,173.2 L443.4,176.0 L444.4,176.0 L444.4,180.6 L444.9,180.6 L444.9,181.9 L445.5,181.9 L445.5,182.4 L446.1,182.4 L446.1,185.3 L446.6,185.3 L446.6,185.7 L447.1,185.7 L447.1,186.8 L447.6,186.8 L447.6,189.5 L448.2,189.5 L448.2,188.7 L448.7,188.7 L448.7,190.0 L449.2,190.0 L449.2,192.1 L449.8,192.1 L449.8,194.3 L450.3,194.3 L450.3,195.7 L450.8,195.7 L450.8,198.1 L451.3,198.1 L451.3,199.3 L451.8,199.3 L451.9,199.4 L452.4,199.4 L452.4,202.6 L452.9,202.6 L452.9,203.4 L453.4,203.4 L453.4,204.4 L453.9,204.4 L453.9,204.3 L454.5,204.3 L454.5,205.7 L455.0,205.7 L455.0,207.1 L455.5,207.1 L455.5,209.8 L456.0,209.8 L456.1,211.6 L456.6,211.6 L456.6,212.4 L457.1,212.4 L457.1,212.7 L457.6,212.7 L457.6,214.7 L458.1,214.7 L458.1,215.9 L458.7,215.9 L458.7,218.0 L459.2,218.0 L459.2,219.3 L459.7,219.3 L459.7,219.0 L460.2,219.0 L460.2,220.6 L460.8,220.6 L460.8,222.3 L461.3,222.3 L461.3,224.5 L461.8,224.5 L461.8,224.7 L462.3,224.7 L462.4,224.7 L462.9,224.7 L462.9,225.8 L463.4,225.8 L463.4,226.8 L463.9,226.8 L463.9,228.1 L464.4,228.1 L464.4,228.7 L465.0,228.7 L465.0,229.4 L465.5,229.4 L465.5,230.1 L466.1,230.1 L466.1,230.6 L466.6,230.6 L466.6,231.5 L467.2,231.5 L467.1,232.4 L467.7,232.4 L467.7,232.8 Z" fill="#000"/>
<path d="M439.2,232.8 L439.2,182.0 L439.3,182.0 L439.3,182.0 L440.2,182.0 L440.2,171.0 L441.3,171.0 L441.3,173.0 L442.3,173.0 L442.3,169.0 L443.4,169.0 L443.4,172.0 L444.4,172.0 L444.4,157.4 L445.5,157.4 L445.5,172.0 L446.6,172.0 L446.6,173.2 L447.6,173.2 L447.6,177.5 L448.7,177.5 L448.7,181.7 L449.7,181.7 L449.7,178.0 L450.8,178.0 L450.8,179.5 L451.9,179.5 L451.9,182.0 L452.9,182.0 L452.9,183.8 L454.0,183.8 L454.0,192.2 L455.0,192.2 L455.0,198.5 L456.0,198.5 L456.0,202.8 L457.1,202.8 L457.1,209.0 L458.1,209.0 L458.1,211.7 L459.2,211.7 L459.2,214.5 L460.2,214.5 L460.2,217.3 L461.3,217.3 L461.3,221.5 L462.4,221.5 L462.4,224.3 L463.4,224.3 L463.4,226.6 L464.4,226.6 L464.4,228.6 L465.5,228.6 L465.5,230.5 L466.6,230.5 L466.6,231.9 L467.7,231.9 L467.7,232.8" fill="none" stroke="#6c6c6c" stroke-width="1.3" stroke-linejoin="miter"/>
<path d="M438.6,149.2 V232.8 H518.6 M434.1,232.8 H438.6 M434.1,211.9 H438.6 M434.1,191.0 H438.6 M434.1,170.1 H438.6 M434.1,149.2 H438.6 M438.6,232.8 V237.6 M458.6,232.8 V237.6 M478.6,232.8 V237.6 M498.6,232.8 V237.6 M518.6,232.8 V237.6 " fill="none" stroke="#2a2a2a" stroke-width="1.1"/>
<text x="433.0" y="153.1" font-size="9" text-anchor="end" font-family="Liberation Serif, Times New Roman, serif" stroke="#000" stroke-width="0.24">20</text>
<text transform="translate(430.2,190.4) rotate(-90)" font-size="9.4" text-anchor="middle" font-family="Liberation Serif, Times New Roman, serif" stroke="#000" stroke-width="0.24">Events</text>
<text x="438.6" y="246.9" font-size="9.2" text-anchor="middle" font-family="Liberation Serif, Times New Roman, serif" stroke="#000" stroke-width="0.24">0</text>
<text x="458.6" y="246.9" font-size="9.2" text-anchor="middle" font-family="Liberation Serif, Times New Roman, serif" stroke="#000" stroke-width="0.24">1</text>
<text x="478.6" y="246.9" font-size="9.2" text-anchor="middle" font-family="Liberation Serif, Times New Roman, serif" stroke="#000" stroke-width="0.24">2</text>
<text x="498.6" y="246.9" font-size="9.2" text-anchor="middle" font-family="Liberation Serif, Times New Roman, serif" stroke="#000" stroke-width="0.24">3</text>
<text x="518.6" y="246.9" font-size="9.2" text-anchor="middle" font-family="Liberation Serif, Times New Roman, serif" stroke="#000" stroke-width="0.24">4</text>
<text x="477.6" y="256.0" font-size="9.6" letter-spacing="0" text-anchor="middle" font-family="Liberation Serif, Times New Roman, serif" stroke="#000" stroke-width="0.24">Log fluorescence PE</text>
<text transform="translate(472.0,148.2) scale(1.025,1)" font-size="14" text-anchor="middle" font-family="Liberation Serif, Times New Roman, serif" stroke="#000" stroke-width="0.24">CD 62E</text>
<text x="483.6" y="168.0" font-size="9.3" font-family="Liberation Serif, Times New Roman, serif" stroke="#000" stroke-width="0.24">&lt;1%</text>
<path d="M16.0,372.1 L16.0,368.1 L16.5,368.1 L16.5,368.4 L17.0,368.4 L17.0,368.2 L17.5,368.2 L17.5,368.4 L18.0,368.4 L18.0,368.3 L18.5,368.3 L18.5,368.1 L19.0,368.1 L19.0,367.6 L19.5,367.6 L19.5,367.7 L20.0,367.7 L20.0,367.9 L20.5,367.9 L20.5,367.6 L21.0,367.6 L21.0,367.8 L21.5,367.8 L21.5,367.8 L22.0,367.8 L22.0,368.0 L22.5,368.0 L22.5,368.1 L23.0,368.1 L23.0,367.9 L23.5,367.9 L23.5,367.9 L23.9,367.9 L23.9,367.6 L24.4,367.6 L24.4,368.1 L24.9,368.1 L24.9,367.6 L25.4,367.6 L25.4,368.1 L25.9,368.1 L25.9,367.7 L26.4,367.7 L26.4,367.7 L26.9,367.7 L26.9,367.5 L27.4,367.5 L27.4,368.0 L27.9,368.0 L27.9,368.2 L28.4,368.2 L28.4,367.6 L28.9,367.6 L28.9,367.5 L29.4,367.5 L29.4,368.5 L29.9,368.5 L29.9,367.9 L30.4,367.9 L30.4,368.3 L30.9,368.3 L30.9,367.8 L31.4,367.8 L31.4,363.6 L32.4,363.6 L32.4,359.3 L33.5,359.3 L33.5,355.0 L34.6,355.0 L34.6,350.7 L35.7,350.7 L35.7,346.3 L36.8,346.3 L36.8,331.2 L37.8,331.2 L37.8,327.0 L38.9,327.0 L38.9,318.3 L40.0,318.3 L40.0,316.0 L41.1,316.0 L41.1,311.8 L42.2,311.8 L42.2,309.6 L43.2,309.6 L43.2,303.0 L44.3,303.0 L44.3,296.6 L45.4,296.6 L45.4,303.0 L46.5,303.0 L46.5,307.4 L47.6,307.4 L47.6,305.3 L48.6,305.3 L48.6,311.8 L49.7,311.8 L49.7,320.4 L50.8,320.4 L50.8,329.0 L51.9,329.0 L51.9,335.5 L53.0,335.5 L53.0,344.2 L54.0,344.2 L54.0,350.7 L55.1,350.7 L55.1,357.1 L56.2,357.1 L56.2,361.5 L57.3,361.5 L57.3,364.7 L58.4,364.7 L58.4,367.0 L59.5,367.0 L59.5,372.1 Z" fill="#000"/>
<path d="M16.0,372.1 V367.4 H17.0 V372.1 Z M17.0,372.1 V367.7 H17.5 V372.1 Z M17.5,372.1 V368.1 H18.5 V372.1 Z M18.5,372.1 V368.9 H20.0 V372.1 Z M20.0,372.1 V367.3 H21.0 V372.1 Z M21.0,372.1 V368.1 H22.5 V372.1 Z M22.5,372.1 V368.4 H23.0 V372.1 Z M23.0,372.1 V368.0 H23.5 V372.1 Z M23.5,372.1 V367.6 H24.5 V372.1 Z M24.5,372.1 V367.8 H26.0 V372.1 Z M26.0,372.1 V367.5 H27.5 V372.1 Z M27.5,372.1 V367.9 H28.5 V372.1 Z M28.5,372.1 V367.8 H30.0 V372.1 Z M30.0,372.1 V367.3 H31.4 V372.1 Z M25.5,372.1 V366.0 H26.5 V372.1 Z M28.5,372.1 V366.5 H29.5 V372.1 Z " fill="#000"/>
<path d="M16.9,372.1 L16.9,318.3 L17.3,318.3 L17.3,318.3 L18.4,318.3 L18.4,314.0 L19.5,314.0 L19.5,316.5 L20.6,316.5 L20.6,311.8 L21.6,311.8 L21.6,296.6 L22.7,296.6 L22.7,314.0 L23.8,314.0 L23.8,316.5 L24.9,316.5 L24.9,314.0 L26.0,314.0 L26.0,322.6 L27.0,322.6 L27.0,318.3 L28.1,318.3 L28.1,324.7 L29.2,324.7 L29.2,322.6 L30.3,322.6 L30.3,322.6 L31.4,322.6 L31.4,331.2 L32.4,331.2 L32.4,337.7 L33.5,337.7 L33.5,342.0 L34.6,342.0 L34.6,348.8 L35.7,348.8 L35.7,351.3 L36.8,351.3 L36.8,353.5 L37.8,353.5 L37.8,358.0 L38.9,358.0 L38.9,361.2 L40.0,361.2 L40.0,362.7 L41.1,362.7 L41.1,365.5 L42.2,365.5 L42.2,367.1 L43.3,367.1 L43.3,368.9 L44.3,368.9 L44.3,371.1 L45.4,371.1 L45.4,372.1" fill="none" stroke="#6c6c6c" stroke-width="1.3" stroke-linejoin="miter"/>
<path d="M15.6,288.45 V372.1 H95.6 M11.1,372.1 H15.6 M11.1,351.2 H15.6 M11.1,330.3 H15.6 M11.1,309.4 H15.6 M11.1,288.4 H15.6 M15.6,372.1 V376.9 M35.6,372.1 V376.9 M55.6,372.1 V376.9 M75.6,372.1 V376.9 M95.6,372.1 V376.9 " fill="none" stroke="#2a2a2a" stroke-width="1.1"/>
<text x="10.0" y="292.3" font-size="9" text-anchor="end" font-family="Liberation Serif, Times New Roman, serif" stroke="#000" stroke-width="0.24">20</text>
<text transform="translate(7.2,329.7) rotate(-90)" font-size="9.4" text-anchor="middle" font-family="Liberation Serif, Times New Roman, serif" stroke="#000" stroke-width="0.24">Events</text>
<text x="15.6" y="386.2" font-size="9.2" text-anchor="middle" font-family="Liberation Serif, Times New Roman, serif" stroke="#000" stroke-width="0.24">0</text>
<text x="35.6" y="386.2" font-size="9.2" text-anchor="middle" font-family="Liberation Serif, Times New Roman, serif" stroke="#000" stroke-width="0.24">1</text>
<text x="55.6" y="386.2" font-size="9.2" text-anchor="middle" font-family="Liberation Serif, Times New Roman, serif" stroke="#000" stroke-width="0.24">2</text>
<text x="75.6" y="386.2" font-size="9.2" text-anchor="middle" font-family="Liberation Serif, Times New Roman, serif" stroke="#000" stroke-width="0.24">3</text>
<text x="95.6" y="386.2" font-size="9.2" text-anchor="middle" font-family="Liberation Serif, Times New Roman, serif" stroke="#000" stroke-width="0.24">4</text>
<text x="54.6" y="395.3" font-size="9.6" letter-spacing="0" text-anchor="middle" font-family="Liberation Serif, Times New Roman, serif" stroke="#000" stroke-width="0.24">Log fluorescence PE</text>
<text transform="translate(49.0,287.3) scale(1.025,1)" font-size="14" text-anchor="middle" font-family="Liberation Serif, Times New Roman, serif" stroke="#000" stroke-width="0.24">CD 31</text>
<text x="60.6" y="307.1" font-size="9.3" font-family="Liberation Serif, Times New Roman, serif" stroke="#000" stroke-width="0.24">80±4%</text>
<path d="M155.3,372.1 L155.3,350.0 L157.6,350.8 L158.2,340.8 L158.4,330.8 L158.8,325.8 L159.4,320.8 L160.0,316.8 L161.0,313.8 L162.0,310.8 L163.0,305.8 L164.5,304.3 L166.0,302.8 L167.0,297.3 L167.8,299.8 L168.5,298.3 L169.3,299.8 L170.0,297.8 L170.8,299.8 L171.5,297.2 L172.3,299.3 L173.0,297.8 L173.7,304.8 L174.1,312.8 L174.8,316.8 L175.6,321.8 L176.6,330.8 L177.3,335.8 L178.1,340.8 L179.3,345.8 L180.6,350.8 L182.1,355.8 L183.0,363.0 L184.5,363.0 L186.0,363.8 L188.0,363.3 L190.4,363.8 L190.6,372.9 L190.6,372.1 Z" fill="#ababab"/>
<path d="M155.4,372.1 L155.4,351.8 L155.9,351.8 L155.9,350.3 L156.5,350.3 L156.4,351.6 L157.0,351.6 L157.0,350.4 L157.5,350.4 L157.5,350.5 L158.8,350.5 L158.8,349.0 L159.2,349.0 L159.2,340.0 L159.8,340.0 L159.8,332.0 L160.5,332.0 L160.5,326.0 L161.2,326.0 L161.2,321.0 L161.8,321.0 L161.8,318.5 L163.0,318.5 L163.0,317.0 L164.3,317.0 L164.3,315.5 L165.6,315.5 L165.6,314.0 L166.5,314.0 L166.5,312.5 L167.2,312.5 L167.2,298.0 L168.0,298.0 L168.0,296.8 L168.8,296.8 L168.8,299.0 L169.3,299.0 L169.3,306.0 L170.0,306.0 L170.0,310.0 L170.6,310.0 L170.6,300.0 L171.5,300.0 L171.5,296.5 L172.3,296.5 L172.3,299.0 L172.8,299.0 L172.8,314.0 L173.2,314.0 L173.2,322.0 L173.6,322.0 L173.6,330.0 L174.6,330.0 L174.6,335.0 L175.6,335.0 L175.6,340.0 L176.6,340.0 L176.6,345.0 L177.6,345.0 L177.6,350.0 L178.8,350.0 L178.8,354.0 L180.1,354.0 L180.1,358.0 L181.6,358.0 L181.6,364.6 L182.1,364.6 L182.1,366.1 L182.5,366.1 L182.6,368.7 L183.0,368.7 L183.0,371.0 L183.5,371.0 L183.5,372.1 Z" fill="#000"/>
<path d="M157.2,372.1 L157.2,350.0 L157.6,350.0 L157.6,350.0 L158.2,350.0 L158.2,340.0 L158.4,340.0 L158.4,330.0 L158.8,330.0 L158.8,325.0 L159.4,325.0 L159.4,320.0 L160.0,320.0 L160.0,316.0 L161.0,316.0 L161.0,313.0 L162.0,313.0 L162.0,310.0 L163.0,310.0 L163.0,305.0 L164.5,305.0 L164.5,303.5 L166.0,303.5 L166.0,302.0 L167.0,302.0 L167.0,296.5 L167.8,296.5 L167.8,299.0 L168.5,299.0 L168.5,297.5 L169.3,297.5 L169.3,299.0 L170.0,299.0 L170.0,297.0 L170.8,297.0 L170.8,299.0 L171.5,299.0 L171.5,296.4 L172.3,296.4 L172.3,298.5 L173.0,298.5 L173.0,297.0 L173.7,297.0 L173.7,304.0 L174.1,304.0 L174.1,312.0 L174.8,312.0 L174.8,316.0 L175.6,316.0 L175.6,321.0 L176.6,321.0 L176.6,330.0 L177.3,330.0 L177.3,335.0 L178.1,335.0 L178.1,340.0 L179.3,340.0 L179.3,345.0 L180.6,345.0 L180.6,350.0 L182.1,350.0 L182.1,355.0 L183.0,355.0 L183.0,362.2 L184.5,362.2 L184.5,362.2 L186.0,362.2 L186.0,362.1 L187.0,362.1 L187.0,363.4 L188.0,363.4 L188.0,362.0 L189.2,362.0 L189.2,363.3 L190.4,363.3 L190.4,363.0 L190.6,363.0 L190.6,372.1" fill="none" stroke="#6c6c6c" stroke-width="1.3" stroke-linejoin="miter"/>
<path d="M183.2,372.1 V362.5 H190.4 V372.1" fill="#858585" stroke="#9a9a9a" stroke-width="0.8"/>
<path d="M194.5,372.1 V362.8 H198 V372.1" fill="#858585" stroke="#9a9a9a" stroke-width="0.8"/>
<path d="M203,372.1 V362.8 H205 V372.1" fill="#858585" stroke="#9a9a9a" stroke-width="0.8"/>
<path d="M205.8,372.1 V362.8 H207.7 V372.1" fill="#858585" stroke="#9a9a9a" stroke-width="0.8"/>
<path d="M213,372.1 V362.8 H217 V372.1" fill="#858585" stroke="#9a9a9a" stroke-width="0.8"/>
<path d="M154.7,288.45 V372.1 H234.7 M150.2,372.1 H154.7 M150.2,351.2 H154.7 M150.2,330.3 H154.7 M150.2,309.4 H154.7 M150.2,288.4 H154.7 M154.7,372.1 V376.9 M174.7,372.1 V376.9 M194.7,372.1 V376.9 M214.7,372.1 V376.9 M234.7,372.1 V376.9 " fill="none" stroke="#2a2a2a" stroke-width="1.1"/>
<text x="149.1" y="292.3" font-size="9" text-anchor="end" font-family="Liberation Serif, Times New Roman, serif" stroke="#000" stroke-width="0.24">20</text>
<text transform="translate(146.3,329.7) rotate(-90)" font-size="9.4" text-anchor="middle" font-family="Liberation Serif, Times New Roman, serif" stroke="#000" stroke-width="0.24">Events</text>
<text x="154.7" y="386.2" font-size="9.2" text-anchor="middle" font-family="Liberation Serif, Times New Roman, serif" stroke="#000" stroke-width="0.24">0</text>
<text x="174.7" y="386.2" font-size="9.2" text-anchor="middle" font-family="Liberation Serif, Times New Roman, serif" stroke="#000" stroke-width="0.24">1</text>
<text x="194.7" y="386.2" font-size="9.2" text-anchor="middle" font-family="Liberation Serif, Times New Roman, serif" stroke="#000" stroke-width="0.24">2</text>
<text x="214.7" y="386.2" font-size="9.2" text-anchor="middle" font-family="Liberation Serif, Times New Roman, serif" stroke="#000" stroke-width="0.24">3</text>
<text x="234.7" y="386.2" font-size="9.2" text-anchor="middle" font-family="Liberation Serif, Times New Roman, serif" stroke="#000" stroke-width="0.24">4</text>
<text x="193.7" y="395.3" font-size="9.6" letter-spacing="0" text-anchor="middle" font-family="Liberation Serif, Times New Roman, serif" stroke="#000" stroke-width="0.24">Log fluorescence PE</text>
<text transform="translate(188.1,287.3) scale(1.025,1)" font-size="14" text-anchor="middle" font-family="Liberation Serif, Times New Roman, serif" stroke="#000" stroke-width="0.24">CD 105</text>
<text x="199.7" y="307.1" font-size="9.3" font-family="Liberation Serif, Times New Roman, serif" stroke="#000" stroke-width="0.24">11±20%</text>
<path d="M320.0,372.1 L320.0,361.5 L320.5,361.5 L320.5,355.0 L321.1,355.0 L321.1,346.3 L322.2,346.3 L322.2,337.7 L323.2,337.7 L323.2,331.2 L324.3,331.2 L324.3,324.7 L325.4,324.7 L325.4,320.4 L326.5,320.4 L326.5,313.9 L327.6,313.9 L327.6,309.6 L328.7,309.6 L328.7,296.6 L329.7,296.6 L329.7,305.3 L330.8,305.3 L330.8,309.6 L331.9,309.6 L331.9,313.9 L333.0,313.9 L333.0,318.0 L334.0,318.0 L334.0,322.6 L335.1,322.6 L335.1,313.9 L336.2,313.9 L336.2,321.0 L337.3,321.0 L337.3,326.0 L338.4,326.0 L338.4,330.0 L339.5,330.0 L339.5,332.5 L340.5,332.5 L340.5,340.0 L341.5,340.0 L341.5,342.0 L342.4,342.0 L342.4,347.0 L342.9,347.0 L342.9,346.1 L343.4,346.1 L343.4,346.1 L343.8,346.1 L343.8,348.5 L344.3,348.5 L344.3,347.7 L345.3,347.7 L345.3,349.6 L346.2,349.6 L346.2,351.5 L347.2,351.5 L347.2,355.4 L348.2,355.4 L348.2,357.3 L349.1,357.3 L349.1,372.1 Z" fill="#000"/>
<path d="M296.0,372.1 V363.4 H296.5 V372.1 Z M296.5,372.1 V362.7 H297.0 V372.1 Z M297.0,372.1 V363.6 H297.5 V372.1 Z M297.5,372.1 V363.2 H298.0 V372.1 Z M298.0,372.1 V363.4 H298.5 V372.1 Z M298.5,372.1 V362.9 H299.5 V372.1 Z M299.5,372.1 V363.6 H300.0 V372.1 Z M300.0,372.1 V363.7 H300.5 V372.1 Z M300.5,372.1 V363.3 H302.0 V372.1 Z M302.0,372.1 V363.5 H302.5 V372.1 Z M302.5,372.1 V363.8 H303.5 V372.1 Z M303.5,372.1 V363.3 H304.0 V372.1 Z M304.0,372.1 V363.1 H304.5 V372.1 Z M304.5,372.1 V362.4 H306.0 V372.1 Z M306.0,372.1 V362.7 H307.0 V372.1 Z M307.0,372.1 V362.6 H308.0 V372.1 Z M308.0,372.1 V363.8 H309.0 V372.1 Z M309.0,372.1 V363.4 H310.5 V372.1 Z M310.5,372.1 V362.5 H311.5 V372.1 Z M311.5,372.1 V363.4 H312.0 V372.1 Z M312.0,372.1 V362.7 H313.0 V372.1 Z M313.0,372.1 V362.5 H314.0 V372.1 Z M314.0,372.1 V363.7 H314.5 V372.1 Z M314.5,372.1 V362.5 H316.0 V372.1 Z M316.0,372.1 V362.8 H317.0 V372.1 Z M317.0,372.1 V363.0 H317.5 V372.1 Z M317.5,372.1 V362.5 H318.0 V372.1 Z M318.0,372.1 V362.5 H319.0 V372.1 Z M319.0,372.1 V363.5 H319.5 V372.1 Z M319.5,372.1 V365.5 H320.0 V372.1 Z M349.1,372.1 V363.2 H349.6 V372.1 Z M349.6,372.1 V363.4 H350.6 V372.1 Z M350.6,372.1 V363.4 H351.6 V372.1 Z M351.6,372.1 V362.0 H352.6 V372.1 Z M352.6,372.1 V363.2 H353.6 V372.1 Z M353.6,372.1 V365.7 H354.1 V372.1 Z M354.1,372.1 V362.9 H355.1 V372.1 Z M355.1,372.1 V362.0 H356.1 V372.1 Z M356.1,372.1 V363.1 H356.6 V372.1 Z M356.6,372.1 V363.9 H357.6 V372.1 Z M357.6,372.1 V363.1 H359.1 V372.1 Z M359.1,372.1 V361.9 H359.6 V372.1 Z M359.6,372.1 V362.9 H360.1 V372.1 Z M360.1,372.1 V362.0 H361.1 V372.1 Z M361.1,372.1 V362.9 H361.6 V372.1 Z M361.6,372.1 V362.7 H362.6 V372.1 Z M362.6,372.1 V363.2 H363.6 V372.1 Z M363.6,372.1 V363.1 H364.6 V372.1 Z M364.6,372.1 V362.1 H365.6 V372.1 Z M365.6,372.1 V362.0 H367.1 V372.1 Z M367.1,372.1 V361.8 H367.6 V372.1 Z M367.6,372.1 V362.3 H368.1 V372.1 Z M368.1,372.1 V365.0 H368.6 V372.1 Z M368.6,372.1 V364.5 H369.1 V372.1 Z M369.1,372.1 V362.5 H370.1 V372.1 Z M370.1,372.1 V363.3 H371.6 V372.1 Z M371.6,372.1 V363.0 H372.1 V372.1 Z M372.1,372.1 V363.4 H373.6 V372.1 Z M373.6,372.1 V363.5 H374.1 V372.1 Z M374.1,372.1 V362.8 H375.0 V372.1 Z M302.9,372.1 V355.0 H304.1 V372.1 Z " fill="#000"/>
<path d="M295.8,372.1 L295.8,350.7 L296.2,350.7 L296.2,350.7 L297.3,350.7 L297.3,333.4 L298.4,333.4 L298.4,324.7 L299.5,324.7 L299.5,318.3 L300.6,318.3 L300.6,314.0 L301.6,314.0 L301.6,309.6 L302.7,309.6 L302.7,306.4 L303.8,306.4 L303.8,307.4 L304.9,307.4 L304.9,303.1 L306.0,303.1 L306.0,305.3 L307.0,305.3 L307.0,296.6 L308.1,296.6 L308.1,307.4 L309.2,307.4 L309.2,311.8 L310.3,311.8 L310.3,318.3 L311.4,318.3 L311.4,322.6 L312.4,322.6 L312.4,329.0 L313.5,329.0 L313.5,333.4 L314.6,333.4 L314.6,339.9 L315.7,339.9 L315.7,346.3 L316.8,346.3 L316.8,352.8 L317.8,352.8 L317.8,359.3 L318.9,359.3 L318.9,363.6 L320.0,363.6 L320.0,368.0 L321.5,368.0 L321.5,372.1" fill="none" stroke="#6c6c6c" stroke-width="1.3" stroke-linejoin="miter"/>
<path d="M294.4,288.45 V372.1 H374.4 M289.9,372.1 H294.4 M289.9,351.2 H294.4 M289.9,330.3 H294.4 M289.9,309.4 H294.4 M289.9,288.4 H294.4 M294.4,372.1 V376.9 M314.4,372.1 V376.9 M334.4,372.1 V376.9 M354.4,372.1 V376.9 M374.4,372.1 V376.9 " fill="none" stroke="#2a2a2a" stroke-width="1.1"/>
<text x="288.8" y="292.3" font-size="9" text-anchor="end" font-family="Liberation Serif, Times New Roman, serif" stroke="#000" stroke-width="0.24">20</text>
<text transform="translate(286.0,329.7) rotate(-90)" font-size="9.4" text-anchor="middle" font-family="Liberation Serif, Times New Roman, serif" stroke="#000" stroke-width="0.24">Events</text>
<text x="294.4" y="386.2" font-size="9.2" text-anchor="middle" font-family="Liberation Serif, Times New Roman, serif" stroke="#000" stroke-width="0.24">0</text>
<text x="314.4" y="386.2" font-size="9.2" text-anchor="middle" font-family="Liberation Serif, Times New Roman, serif" stroke="#000" stroke-width="0.24">1</text>
<text x="334.4" y="386.2" font-size="9.2" text-anchor="middle" font-family="Liberation Serif, Times New Roman, serif" stroke="#000" stroke-width="0.24">2</text>
<text x="354.4" y="386.2" font-size="9.2" text-anchor="middle" font-family="Liberation Serif, Times New Roman, serif" stroke="#000" stroke-width="0.24">3</text>
<text x="374.4" y="386.2" font-size="9.2" text-anchor="middle" font-family="Liberation Serif, Times New Roman, serif" stroke="#000" stroke-width="0.24">4</text>
<text x="333.4" y="395.3" font-size="9.6" letter-spacing="0" text-anchor="middle" font-family="Liberation Serif, Times New Roman, serif" stroke="#000" stroke-width="0.24">Log fluorescence PE</text>
<text transform="translate(327.8,287.3) scale(1.025,1)" font-size="14" text-anchor="middle" font-family="Liberation Serif, Times New Roman, serif" stroke="#000" stroke-width="0.24">CD 106</text>
<text x="339.4" y="307.1" font-size="9.3" font-family="Liberation Serif, Times New Roman, serif" stroke="#000" stroke-width="0.24">80±3%</text>
</svg>
</body></html>
